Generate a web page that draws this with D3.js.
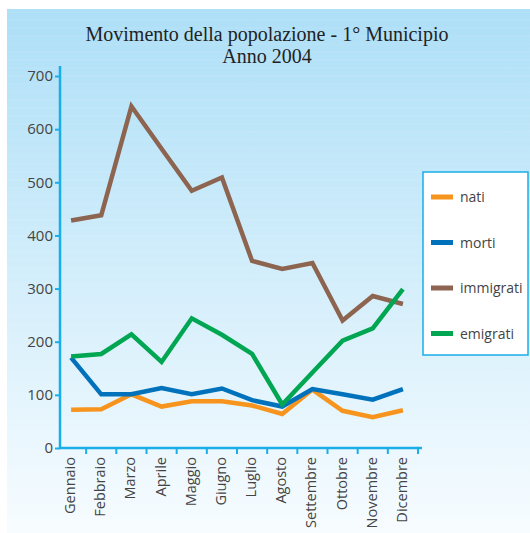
<!DOCTYPE html>
<html><head><meta charset="utf-8">
<script src="https://cdn.jsdelivr.net/npm/d3@7"></script>
<style>body{margin:0;background:#fff}svg{display:block}</style>
</head><body>
<script>
const months = ["Gennaio","Febbraio","Marzo","Aprile","Maggio","Giugno","Luglio","Agosto","Settembre","Ottobre","Novembre","Dicembre"];
const nati      = [72, 73, 101, 78, 88, 88, 80, 64, 110, 70, 58, 71];
const morti     = [170, 101, 101, 113, 101, 112, 90, 78, 111, 101, 91, 111];
const immigrati = [428, 438, 643, 563, 484, 509, 352, 337, 348, 240, 286, 271];
const emigrati  = [172, 177, 214, 162, 244, 213, 177, 82, 142, 202, 225, 299];
const yTicks = [0,100,200,300,400,500,600,700];
const seriesNames = ["nati","morti","immigrati","emigrati"];
const seriesColors = ["#f7941d","#0072bc","#8c6450","#00a651"];
const series = [nati, morti, immigrati, emigrati];

const W=530,H=533;
const svg=d3.select("body").append("svg").attr("width",W).attr("height",H);
const defs=svg.append("defs");
const g=defs.append("linearGradient").attr("id","bg").attr("x1",0).attr("x2",0).attr("y1",0).attr("y2",1);
g.append("stop").attr("offset","0%").attr("stop-color","#addff7");
g.append("stop").attr("offset","100%").attr("stop-color","#f7fcff");
svg.append("rect").attr("x",7).attr("y",9).attr("width",W-7).attr("height",H-9).attr("fill","url(#bg)");
for(let yy=12; yy<H; yy+=8){
  svg.append("line").attr("x1",7).attr("x2",W).attr("y1",yy).attr("y2",yy)
    .attr("stroke","#ffffff").attr("stroke-opacity",0.12).attr("stroke-width",1);
}

const title=svg.append("text").attr("text-anchor","middle").attr("font-family","'Liberation Serif', 'DejaVu Serif', serif")
  .attr("font-size",20).attr("fill","#222");
title.append("tspan").attr("x",267).attr("y",41).text("Movimento della popolazione - 1° Municipio");
title.append("tspan").attr("x",267).attr("y",63).text("Anno 2004");

const x=d3.scaleBand().domain(months).range([56,418]);
const y=d3.scaleLinear().domain([0,700]).range([448,76]);
const axisColor="#19aee8";

const ya=svg.append("g").attr("transform","translate(60,0)")
  .call(d3.axisLeft(y).tickValues(yTicks).tickSize(5).tickPadding(2).tickFormat(d3.format("d")));
ya.select(".domain").attr("stroke",axisColor).attr("stroke-width",2.5).attr("d","M0,448V66");
ya.selectAll(".tick line").attr("stroke",axisColor).attr("stroke-width",2);
ya.selectAll(".tick text").attr("font-family","'Open Sans', 'DejaVu Sans', sans-serif").attr("font-size",15).attr("fill","#444");

const xa=svg.append("g").attr("transform","translate(0,448)");
xa.append("line").attr("x1",59).attr("x2",422).attr("y1",0).attr("y2",0).attr("stroke",axisColor).attr("stroke-width",2.5);
xa.selectAll("line.tk").data(months).enter().append("line").attr("class","tk")
  .attr("x1",d=>x(d)+x.bandwidth()).attr("x2",d=>x(d)+x.bandwidth()).attr("y1",0).attr("y2",6)
  .attr("stroke",axisColor).attr("stroke-width",2);
xa.selectAll("text").data(months).enter().append("text")
  .attr("transform",d=>`translate(${x(d)+x.bandwidth()/2+4},9) rotate(-90)`)
  .attr("text-anchor","end").attr("font-family","'Open Sans', 'DejaVu Sans', sans-serif")
  .attr("font-size",14.5).attr("fill","#444").text(d=>d);

const line=d3.line().x((d,i)=>x(months[i])+x.bandwidth()/2).y(d=>y(d));
series.forEach((s,i)=>{
  svg.append("path").attr("d",line(s)).attr("fill","none").attr("stroke",seriesColors[i])
    .attr("stroke-width",4.5).attr("stroke-linejoin","miter").attr("stroke-linecap","butt");
});

svg.append("rect").attr("x",423).attr("y",172).attr("width",105).attr("height",183)
  .attr("fill","#ffffff").attr("stroke",axisColor).attr("stroke-width",1.5);
seriesNames.forEach((n,i)=>{
  const yy=197+i*45.5;
  svg.append("rect").attr("x",431).attr("y",yy-2.5).attr("width",22).attr("height",5).attr("fill",seriesColors[i]);
  svg.append("text").attr("x",460).attr("y",yy+5).attr("font-family","'Open Sans', 'DejaVu Sans', sans-serif")
    .attr("font-size",14).attr("fill","#444").text(n);
});
</script>
</body></html>
